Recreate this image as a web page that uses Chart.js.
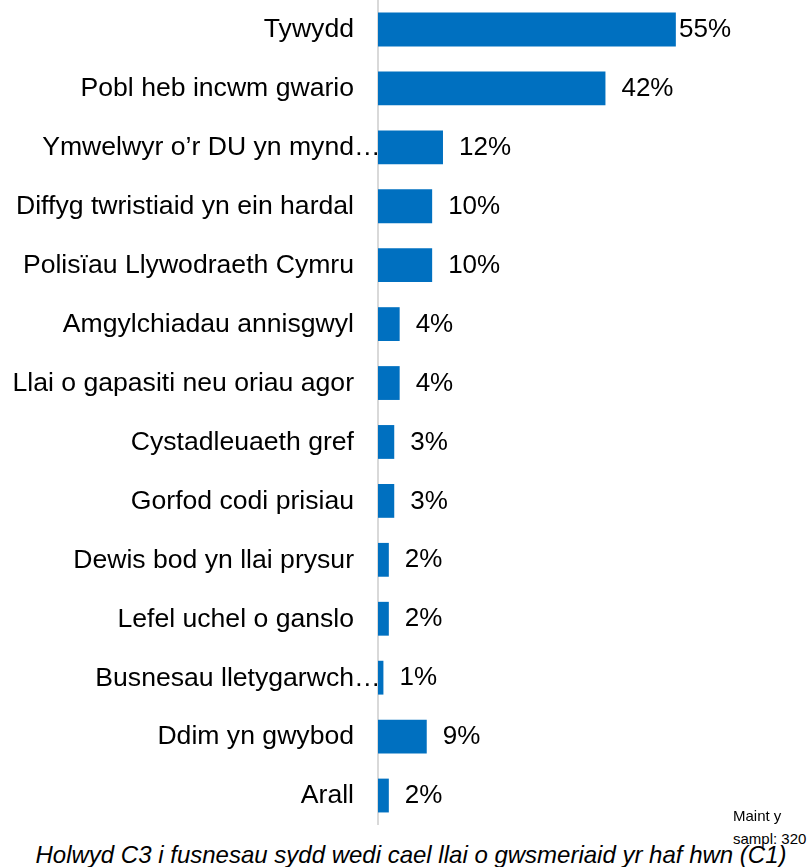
<!DOCTYPE html>
<html>
<head>
<meta charset="utf-8">
<script src="https://cdn.jsdelivr.net/npm/chart.js@4"></script>
<style>
  html, body { margin: 0; padding: 0; background: #fff; }
  body { width: 810px; height: 867px; position: relative; overflow: hidden; font-family: "Liberation Sans", Arial, sans-serif; }
  #wrap { position: absolute; left: 0; top: 0; width: 810px; height: 825px; }
  .note { position: absolute; font-size: 15px; color: #000; white-space: nowrap; line-height: 1; }
  #caption { position: absolute; left: 0; width: 822px; top: 843px; text-align: center; font-size: 24px; font-style: italic; color: #000; white-space: nowrap; line-height: 1; }
</style>
</head>
<body>
<div id="wrap"><canvas id="chart"></canvas></div>
<div class="note" style="left:733px; top:808px;">Maint y</div>
<div class="note" style="left:733px; top:831px;">sampl: 320</div>
<div id="caption">Holwyd C3 i fusnesau sydd wedi cael llai o gwsmeriaid yr haf hwn (C1)</div>
<script>
// Reasons given for fewer customers this summer (% of businesses)
const categories = [
  "Tywydd",
  "Pobl heb incwm gwario",
  "Ymwelwyr o’r DU yn mynd…",
  "Diffyg twristiaid yn ein hardal",
  "Polisïau Llywodraeth Cymru",
  "Amgylchiadau annisgwyl",
  "Llai o gapasiti neu oriau agor",
  "Cystadleuaeth gref",
  "Gorfod codi prisiau",
  "Dewis bod yn llai prysur",
  "Lefel uchel o ganslo",
  "Busnesau lletygarwch…",
  "Ddim yn gwybod",
  "Arall"
];
const percentages = [55, 42, 12, 10, 10, 4, 4, 3, 3, 2, 2, 1, 9, 2];
const valueLabels = ["55%", "42%", "12%", "10%", "10%", "4%", "4%", "3%", "3%", "2%", "2%", "1%", "9%", "2%"];

const FONT = '"Liberation Sans", Arial, sans-serif';

// Category names on the left and value labels after each bar
const labelPlugin = {
  id: 'barLabels',
  afterDatasetsDraw(chart) {
    const ctx = chart.ctx;
    const yScale = chart.scales.y;
    const area = chart.chartArea;
    ctx.save();
    ctx.fillStyle = '#000';
    ctx.textBaseline = 'middle';
    ctx.font = '26.6px ' + FONT;
    const labelRight = yScale.right - 24;
    categories.forEach((name, i) => {
      const y = yScale.getPixelForValue(i) + 0.5;
      if (name.endsWith('…')) {
        const base = name.slice(0, -1);
        ctx.textAlign = 'right';
        ctx.fillText(base, labelRight, y);
        ctx.textAlign = 'left';
        ctx.fillText('…', labelRight, y);
      } else {
        ctx.textAlign = 'right';
        ctx.fillText(name, labelRight, y);
      }
    });
    ctx.font = '26px ' + FONT;
    const meta = chart.getDatasetMeta(0);
    ctx.textAlign = 'left';
    meta.data.forEach((bar, i) => {
      const txt = valueLabels[i];
      const w = ctx.measureText(txt).width;
      let x = bar.x + 16;
      if (x + w > area.right + 1) x = area.right + 1 - w;
      ctx.fillText(txt, x, bar.y + 0.5);
    });
    ctx.restore();
  }
};

new Chart(document.getElementById('chart'), {
  type: 'bar',
  data: {
    labels: categories,
    datasets: [{
      data: percentages,
      backgroundColor: '#0070C0',
      borderWidth: 0,
      barPercentage: 0.82,
      categoryPercentage: 0.7
    }]
  },
  options: {
    indexAxis: 'y',
    responsive: true,
    maintainAspectRatio: false,
    animation: false,
    layout: { padding: { top: 0, bottom: 0, left: 0, right: 80 } },
    plugins: { legend: { display: false }, tooltip: { enabled: false } },
    scales: {
      x: { display: false, min: 0, max: 65 },
      y: {
        afterFit(scale) { scale.width = 378; },
        ticks: { display: false },
        grid: { display: false, drawTicks: false },
        border: { display: true, color: '#d9d9d9', width: 2 }
      }
    }
  },
  plugins: [labelPlugin]
});
</script>
</body>
</html>
